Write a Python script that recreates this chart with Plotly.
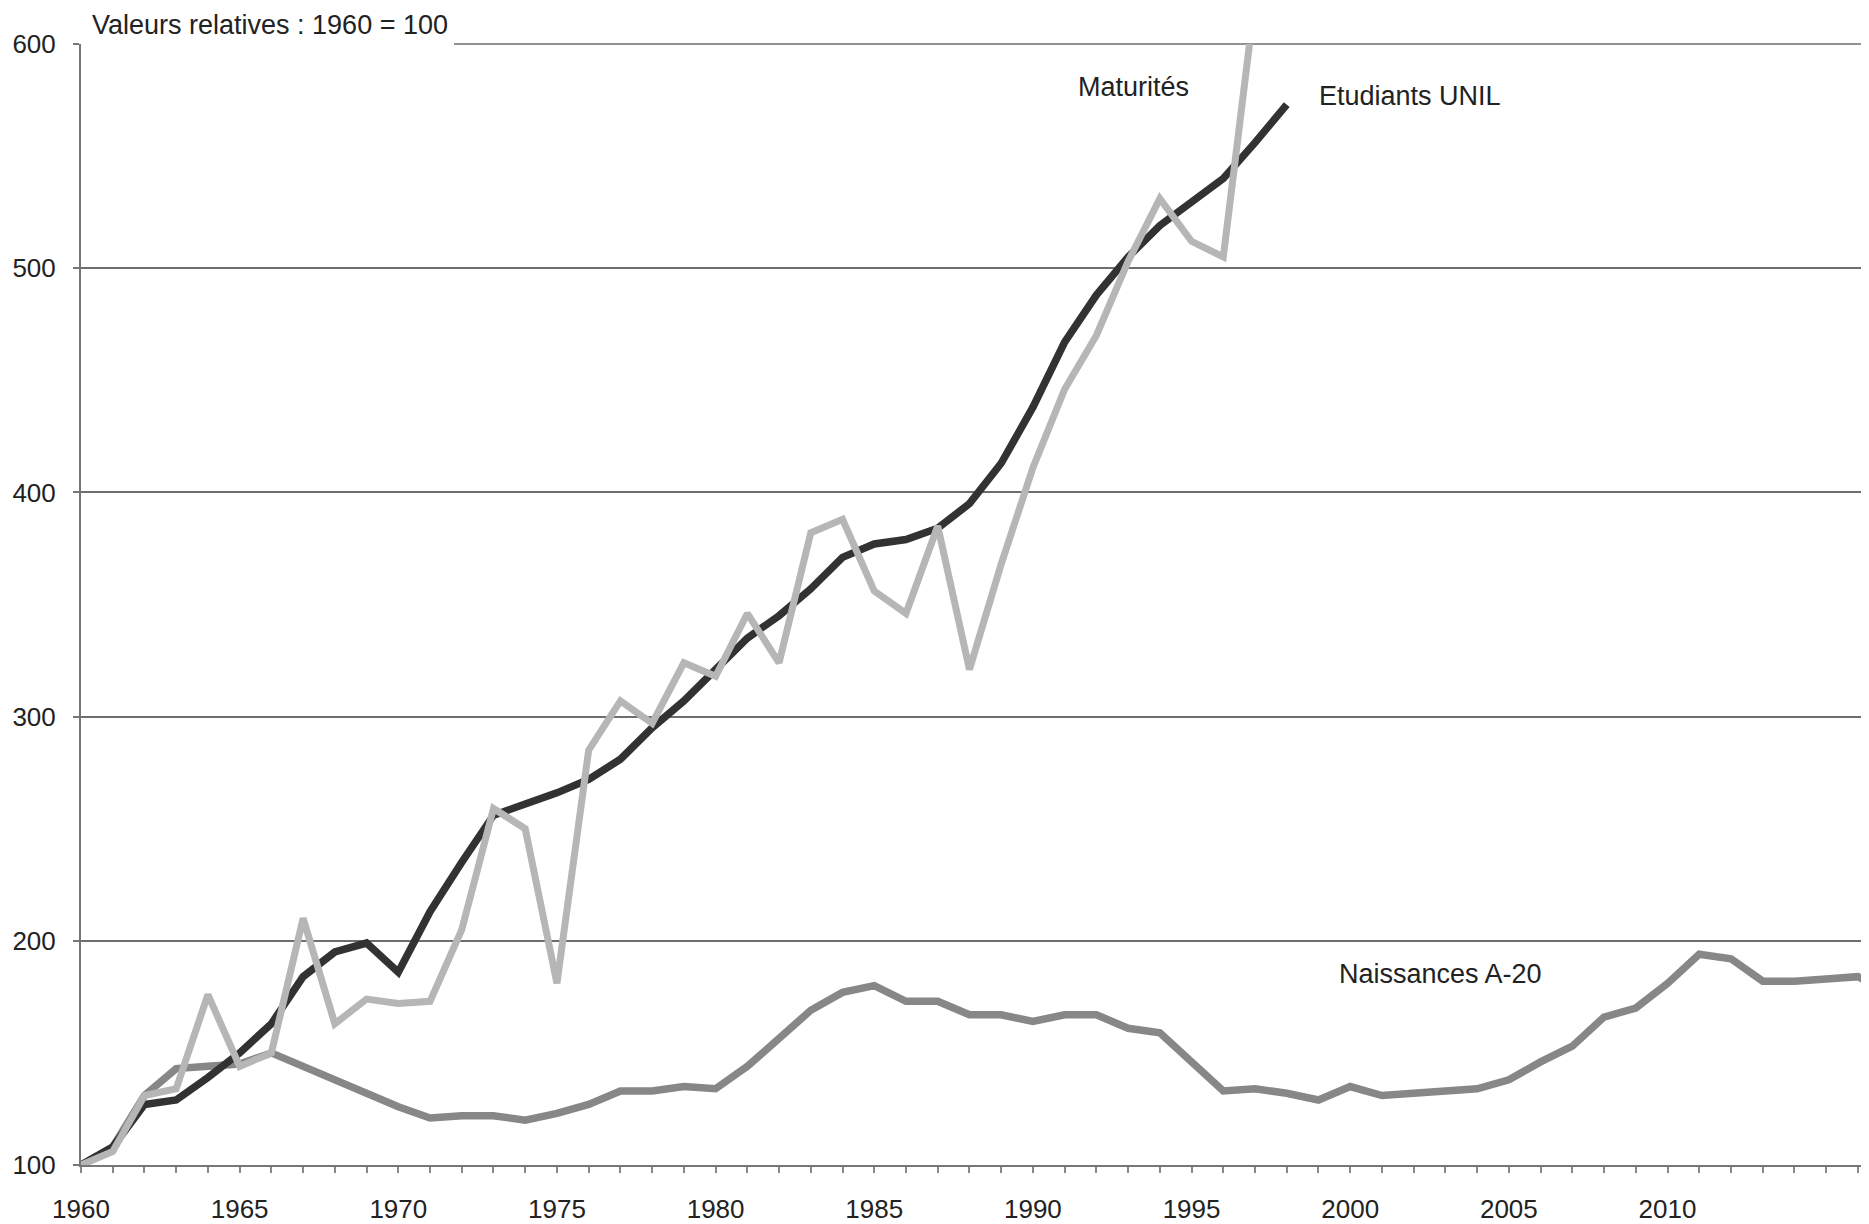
import plotly.graph_objects as go

years_etud = list(range(1960, 1999))
etudiants_unil = [100, 108, 127, 129, 139, 150, 163, 184, 195, 199,
                  186, 213, 235, 256, 261, 266, 272, 281, 295, 307,
                  321, 335, 345, 357, 371, 377, 379, 384, 395, 413,
                  438, 467, 488, 505, 519, 530, 540, 556, 573]

years_mat = list(range(1960, 1998))
maturites = [100, 106, 131, 134, 176, 144, 150, 210, 163, 174,
             172, 173, 205, 259, 250, 181, 285, 307, 297, 324,
             318, 346, 324, 382, 388, 356, 346, 385, 321, 368,
             411, 446, 470, 503, 531, 512, 505, 620]

years_nais = list(range(1960, 2018))
naissances = [100, 108, 131, 143, 144, 145, 150, 144, 138, 132,
              126, 121, 122, 122, 120, 123, 127, 133, 133, 135,
              134, 144, 157, 169, 177, 180, 173, 173, 167, 167,
              164, 167, 167, 161, 159, 146, 133, 134, 132, 129,
              135, 131, 132, 133, 134, 138, 146, 153, 166, 170,
              181, 194, 192, 182, 182, 183, 184, 177]

x_tickvals = list(range(1960, 2017))
x_ticktext = [str(y) if (y % 5 == 0 and y <= 2010) else "" for y in x_tickvals]
y_tickvals = [100, 200, 300, 400, 500, 600]

FONT = "Liberation Sans, Arial, Helvetica, sans-serif"
TXT = "#222222"
GRID = "#6e6e6e"

fig = go.Figure()
fig.add_trace(go.Scatter(x=years_nais, y=naissances, mode="lines",
                         line=dict(color="#878787", width=7.5), name="Naissances A-20"))
fig.add_trace(go.Scatter(x=years_etud, y=etudiants_unil, mode="lines",
                         line=dict(color="#323232", width=7.5), name="Etudiants UNIL"))
fig.add_trace(go.Scatter(x=years_mat, y=maturites, mode="lines",
                         line=dict(color="#b6b6b6", width=7), name="Maturités"))

# page body has an 8px default margin: compensate so the plot lands where the reference has it
fig.update_layout(
    width=1861, height=1216,
    margin=dict(l=73, r=0, t=36, b=56),
    paper_bgcolor="white", plot_bgcolor="white",
    showlegend=False,
    font=dict(family=FONT, size=26, color=TXT),
    xaxis=dict(range=[1960, 2016.35], tickvals=x_tickvals, ticktext=x_ticktext,
               showgrid=False, zeroline=False, showline=True, linecolor="#777777",
               linewidth=2, ticks="outside", ticklen=6, tickcolor="#888888",
               tickwidth=1.5, ticklabelstandoff=14,
               tickfont=dict(family=FONT, size=26, color=TXT)),
    yaxis=dict(range=[100, 600], tickvals=y_tickvals, showgrid=True,
               gridcolor=GRID, gridwidth=1.6, zeroline=False, showline=True,
               linecolor="#777777", linewidth=2, ticks="outside", ticklen=6,
               tickcolor="#777777", tickwidth=1.5, ticklabelstandoff=12,
               tickfont=dict(family=FONT, size=26, color=TXT)),
    shapes=[
        dict(type="rect", xref="paper", yref="paper",
             x0=0.0012, x1=0.2086, y0=0.996, y1=1.004,
             fillcolor="white", line=dict(width=0), layer="above"),
        dict(type="line", xref="paper", yref="paper",
             x0=0.2086, x1=1.0, y0=1.0, y1=1.0,
             line=dict(color=GRID, width=1.6), layer="below"),
    ],
    annotations=[
        dict(text="Valeurs relatives : 1960 = 100", xref="paper", yref="paper",
             x=0.005, y=1.017, xanchor="left", yanchor="middle", showarrow=False,
             font=dict(family=FONT, size=27, color=TXT)),
        dict(text="Maturités", xref="x", yref="y", x=1993.18, y=580.9,
             xanchor="center", yanchor="middle", showarrow=False,
             font=dict(family=FONT, size=27, color=TXT)),
        dict(text="Etudiants UNIL", xref="x", yref="y", x=2001.88, y=576.9,
             xanchor="center", yanchor="middle", showarrow=False,
             font=dict(family=FONT, size=27, color=TXT)),
        dict(text="Naissances A-20", xref="x", yref="y", x=2002.83, y=185,
             xanchor="center", yanchor="middle", showarrow=False,
             font=dict(family=FONT, size=27, color=TXT)),
    ],
)

fig.write_html("out.html")
